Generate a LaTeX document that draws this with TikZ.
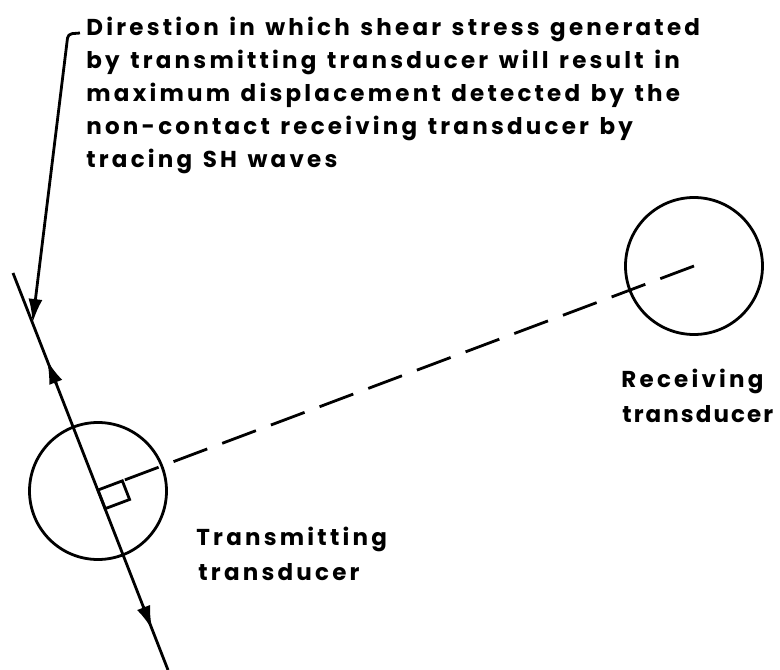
\documentclass[tikz,border=0pt]{standalone}
\usepackage{fontspec}
\setmainfont{Poppins}
\newfontfamily\lblfont[LetterSpace=14,WordSpace=1.3]{Poppins}
\newfontfamily\lblfontn[LetterSpace=9]{Poppins}
\usetikzlibrary{arrows.meta,calc}
\begin{document}
\begin{tikzpicture}[x=1pt,y=-1pt, line width=2.8pt,
  txt/.style={font=\lblfont\bfseries\fontsize{23}{23}\selectfont, inner sep=0pt, anchor=base west},
  txtn/.style={font=\lblfontn\bfseries\fontsize{23}{23}\selectfont, inner sep=0pt, anchor=base west},
  ring/.style={circle, draw, minimum size=137pt, inner sep=0pt},
  tipped/.style={-{Latex[length=24pt,width=14pt]}},
  dashline/.style={dash pattern=on 36pt off 16pt}]
\useasboundingbox (0,0) rectangle (780,670);
% transducers
\node[ring] (tc) at (98,491) {};
\node[ring] (rc) at (694,266) {};
% shear direction line
\coordinate (top) at (13,273);
\coordinate (bot) at (168,670);
\coordinate (foot) at (98,490);
\draw (top) -- (bot);
\draw[tipped] ($(top)!0.28!(bot)$) -- ($(top)!0.219!(bot)$);
\draw[tipped] ($(top)!0.84!(bot)$) -- ($(top)!0.899!(bot)$);
% right-angle mark
\coordinate (sqa) at ($(foot)!20pt!(bot)$);
\coordinate (sqb) at ($(foot)!26pt!(rc.center)$);
\draw (foot) -- (sqa) -- ($(sqa)+(sqb)-(foot)$) -- (sqb) -- cycle;
% dashed line between transducers
\draw[dashline] (rc.center) -- (sqb);
% leader
\coordinate (lh) at (80,33);
\coordinate (lc) at (68,34);
\coordinate (ltip) at ($(top)!0.126!(bot)$);
\draw[tipped, rounded corners=4pt] (lh) -- (lc) -- (ltip);
% texts
\node[txt] (l1) at (85,35) {Direstion in which shear stress generated};
\node[txt] (l2) at (85,68) {by transmitting transducer will result in};
\node[txt] (l3) at (85,101) {maximum displacement detected by the};
\node[txt] (l4) at (85,134) {non-contact receiving transducer by};
\node[txt] (l5) at (85,167) {tracing SH waves};
\node[txt] (tl1) at (195,545) {Transmitting};
\node[txt] (tl2) at (197,580) {transducer};
\node[txt] (rl1) at (620,387) {Receiving};
\node[txtn] (rl2) at (621,422) {transducer};
\end{tikzpicture}
\end{document}
